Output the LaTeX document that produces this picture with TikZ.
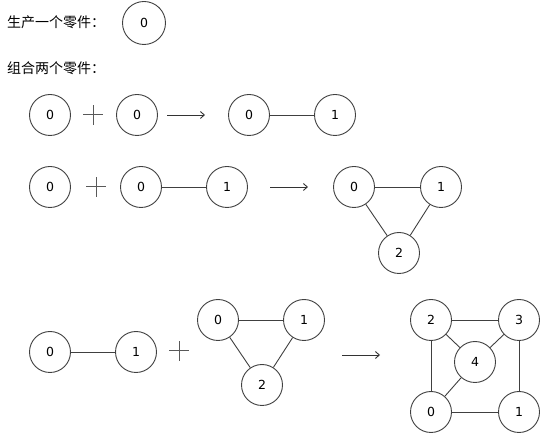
\documentclass[tikz,border=0pt]{standalone}
\usepackage{fontspec}
\setmainfont{DejaVu Sans}
\newfontfamily\cjk{Noto Sans CJK SC}
\usetikzlibrary{arrows.meta}
\tikzset{
  part/.style={circle,draw=black!75,line width=0.9pt,minimum size=41pt,inner sep=0pt,font=\fontsize{12.5}{12.5}\selectfont},
  edge/.style={draw=black!75,line width=0.9pt},
  plusbar/.style={draw=black!65,line width=1pt},
  arr/.style={draw=black!80,line width=0.9pt,-{Straight Barb[length=4pt,width=7pt]}},
  lab/.style={anchor=west,inner sep=0pt,font=\cjk\fontsize{14}{14}\selectfont}
}
\begin{document}
\begin{tikzpicture}[x=1pt,y=-1pt]
\useasboundingbox (0,0) rectangle (552,443);
% headings
\node[lab] (t1) at (7,22) {生产一个零件：};
\node[part,minimum size=43pt] (s0) at (144,23) {0};
\node[lab] (t2) at (7,68) {组合两个零件：};
% row 1
\node[part] (a1) at (50,115) {0};
\coordinate (p1) at (93,115);
\node[part] (a2) at (137,115) {0};
\coordinate (r1s) at (167,115);
\coordinate (r1e) at (205,115);
\node[part] (a3) at (249,115) {0};
\node[part] (a4) at (335,115) {1};
\draw[edge] (a3) -- (a4);
\draw[plusbar] ([xshift=-10pt]p1) -- ([xshift=10pt]p1);
\draw[plusbar] ([yshift=-10pt]p1) -- ([yshift=10pt]p1);
\draw[arr] (r1s) -- (r1e);
% row 2
\node[part] (b1) at (50,187) {0};
\coordinate (p2) at (96,187);
\node[part] (b2) at (141,187) {0};
\node[part] (b3) at (227,187) {1};
\draw[edge] (b2) -- (b3);
\coordinate (r2s) at (270,187);
\coordinate (r2e) at (308,187);
\node[part] (b4) at (354,187) {0};
\node[part] (b5) at (441,187) {1};
\node[part] (b6) at (399,253) {2};
\draw[edge] (b4) -- (b5);
\draw[edge] (b4) -- (b6);
\draw[edge] (b5) -- (b6);
\draw[plusbar] ([xshift=-10pt]p2) -- ([xshift=10pt]p2);
\draw[plusbar] ([yshift=-10pt]p2) -- ([yshift=10pt]p2);
\draw[arr] (r2s) -- (r2e);
% row 3
\node[part] (c1) at (50,352) {0};
\node[part] (c2) at (136,352) {1};
\draw[edge] (c1) -- (c2);
\coordinate (p3) at (179,351);
\node[part] (c3) at (218,320) {0};
\node[part] (c4) at (304,320) {1};
\node[part] (c5) at (262,385) {2};
\draw[edge] (c3) -- (c4);
\draw[edge] (c3) -- (c5);
\draw[edge] (c4) -- (c5);
\draw[plusbar] ([xshift=-10pt]p3) -- ([xshift=10pt]p3);
\draw[plusbar] ([yshift=-10pt]p3) -- ([yshift=10pt]p3);
\coordinate (r3s) at (342,355);
\coordinate (r3e) at (380,355);
\draw[arr] (r3s) -- (r3e);
\node[part] (d2) at (431,320) {2};
\node[part] (d3) at (519,320) {3};
\node[part] (d4) at (475,362) {4};
\node[part] (d0) at (431,412) {0};
\node[part] (d1) at (519,412) {1};
\draw[edge] (d2) -- (d3);
\draw[edge] (d2) -- (d0);
\draw[edge] (d3) -- (d1);
\draw[edge] (d0) -- (d1);
\draw[edge] (d2) -- (d4);
\draw[edge] (d3) -- (d4);
\draw[edge] (d0) -- (d4);
\end{tikzpicture}
\end{document}
